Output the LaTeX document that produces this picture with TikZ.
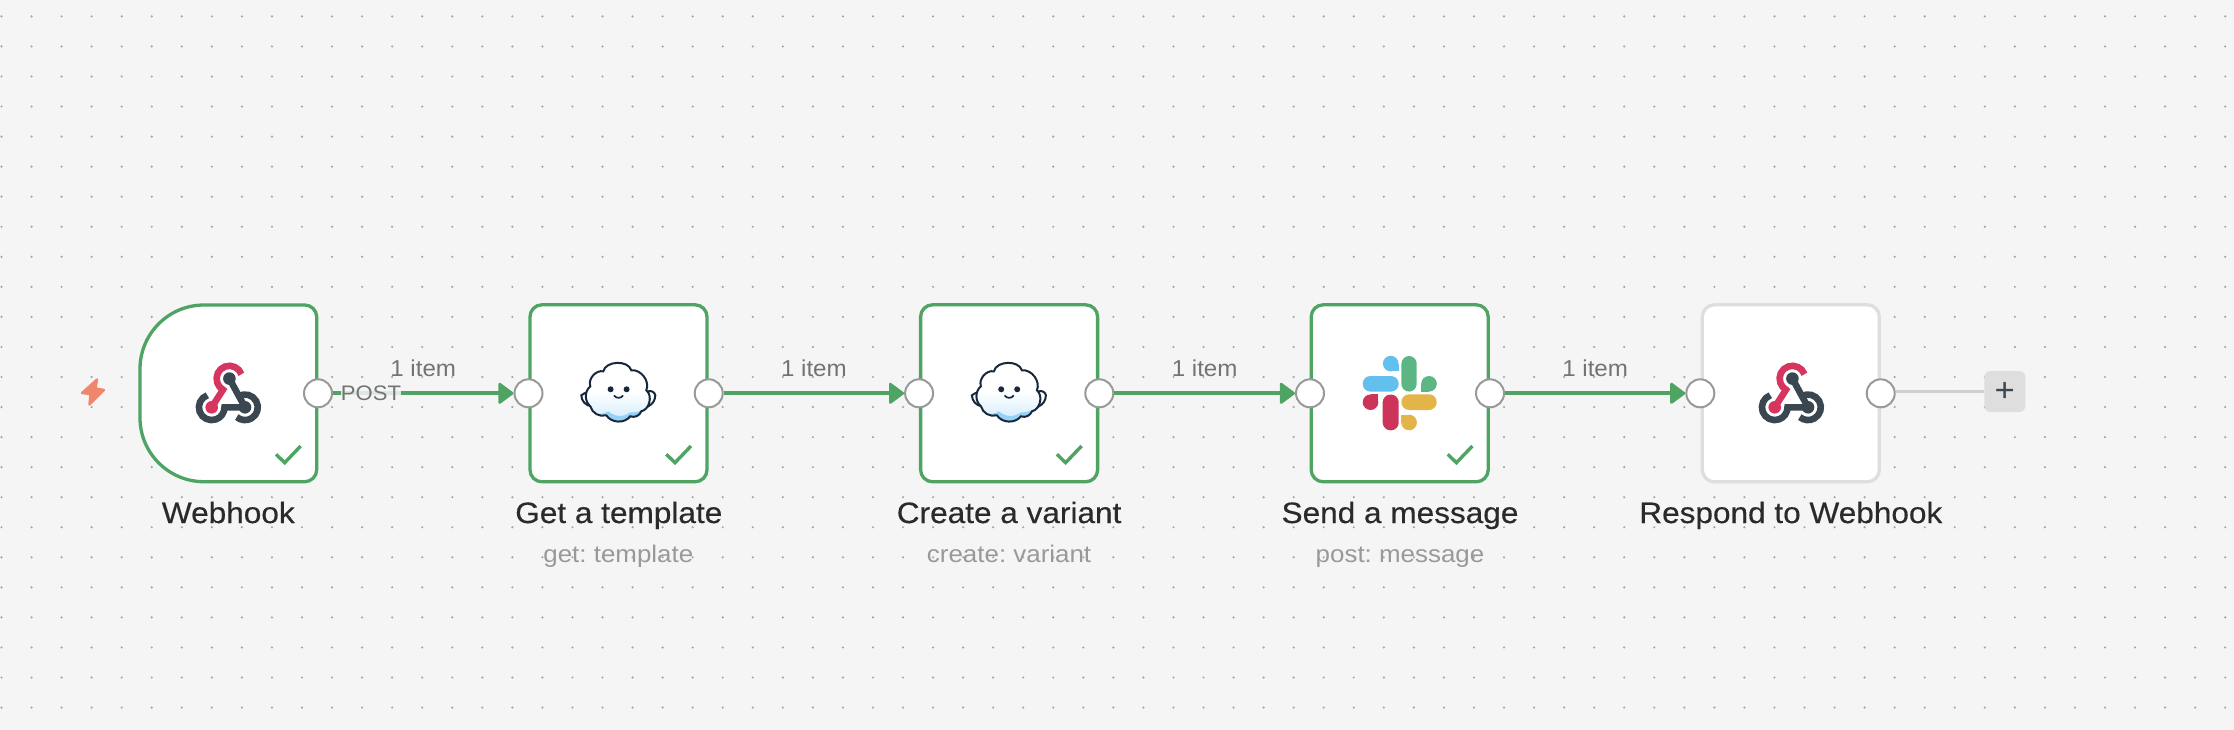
\documentclass[tikz,border=0pt]{standalone}
\usepackage{fontspec}
\setmainfont[FakeStretch=1.05]{Liberation Sans}
\newfontfamily\titlefont[FakeStretch=1.07, FakeBold=0.35]{Liberation Sans}
\newfontfamily\subfont[FakeStretch=1.08]{Liberation Sans}
\usetikzlibrary{arrows.meta, calc}
\definecolor{canvas}{RGB}{245, 245, 245}
\definecolor{speck}{RGB}{165, 165, 165}
\definecolor{okgreen}{RGB}{79, 164, 100}
\definecolor{idle}{RGB}{222, 222, 222}
\definecolor{wire}{RGB}{208, 208, 208}
\definecolor{ring}{RGB}{153, 153, 153}
\definecolor{hookred}{RGB}{214, 53, 95}
\definecolor{hookdark}{RGB}{58, 71, 80}
\definecolor{bolt}{RGB}{240, 134, 110}
\definecolor{ink}{RGB}{42, 42, 42}
\definecolor{cloudline}{RGB}{24, 40, 60}
\definecolor{cloudlow}{RGB}{205, 234, 252}
\definecolor{cloudband}{RGB}{150, 210, 246}
\definecolor{slackblue}{RGB}{99, 191, 238}
\definecolor{slackgreen}{RGB}{92, 182, 132}
\definecolor{slackyellow}{RGB}{227, 180, 71}
\definecolor{slackred}{RGB}{204, 52, 89}
\newcommand{\cloudpath}{(-28,-7) to[bend left=60] (-15,-22) to[bend left=75] (13,-23) to[bend left=60] (28,-3)
  to[bend left=65] (23,18) to[bend left=45] (12,23) to[bend left=55] (-12,22) to[bend left=45] (-28,13) to[bend left=50] cycle}
\tikzset{
  stepbox/.style={draw=okgreen, line width=3.3pt, fill=white, rounded corners=12pt, minimum size=177pt, inner sep=0pt},
  idlebox/.style={stepbox, draw=idle},
  port/.style={circle, draw=ring, line width=2pt, fill=white, minimum size=28pt, inner sep=0pt},
  flow/.style={draw=okgreen, line width=3.8pt, -{Triangle[round, length=16pt, width=23pt, line width=2.5pt]}},
  itemlabel/.style={midway, anchor=base, yshift=16.5pt, text=black!55, font=\fontsize{23}{23}\selectfont},
  title/.style={anchor=base, text=ink, font=\titlefont\fontsize{29.5}{30}\selectfont},
  subtitle/.style={anchor=base, text=ring, font=\subfont\fontsize{24}{24}\selectfont},
  okmark/.pic={\draw[okgreen, line width=3.4pt] (-40.7,61) -- (-32,69.4) -- (-16,52.7);},
  hookicon/.pic={
    \coordinate (T) at (0.7,-14.7);
    \coordinate (R) at (16.3,14);
    \coordinate (L) at (-17,14);
    \draw[hookdark, line width=6.6pt] (T) -- (R);
    \draw[hookdark, line width=6.6pt] (L) ++(110:12.8pt) arc[start angle=110, delta angle=250, radius=12.8pt] -- (R);
    \draw[hookdark, line width=6.6pt] (R) ++(120:12.8pt) arc[start angle=120, delta angle=-250, radius=12.8pt];
    \draw[hookred, line width=6.6pt] (T) ++(20:12.8pt) arc[start angle=20, end angle=240, radius=12.8pt] -- (L);
    \fill[hookdark] (T) circle[radius=6.3pt] (R) circle[radius=6.3pt];
    \fill[hookred] (L) circle[radius=6.3pt];
  },
  cloudicon/.pic={
    \draw[cloudline, fill=white, line width=2pt] (-23,-2) to[bend right=20] (-37,2) to[bend right=40] (-27,13) -- cycle;
    \draw[cloudline, fill=white, line width=2pt] (30,-2) to[bend left=50] (37,2) to[bend left=30] (30,13) -- cycle;
    \shade[top color=white, bottom color=cloudlow, middle color=white] \cloudpath;
    \begin{scope}
      \clip \cloudpath;
      \fill[cloudband] (-32,17) to[bend right=30] (-10,18) to[bend right=40] (12,19) to[bend right=30] (32,9) -- (32,32) -- (-32,32) -- cycle;
    \end{scope}
    \draw[cloudline, line width=2pt] \cloudpath;
    \fill[cloudline] (-7.7,-4) circle[radius=3pt] (8.3,-4) circle[radius=3pt];
    \draw[cloudline, line width=1.7pt, line cap=round] (-4,2.5) to[bend right=55] (4.5,2.5);
  },
  slackicon/.pic={
    \fill[slackblue, rounded corners=7.7pt] (-37,-17.3) rectangle (-1,-1.7);
    \fill[slackblue] (-9,-29.7) circle[radius=7.8pt];
    \fill[slackblue] (-9,-29.7) rectangle (-1,-22);
    \fill[slackgreen, rounded corners=7.7pt] (1.7,-37.3) rectangle (17,-1.7);
    \fill[slackgreen] (29.3,-9.5) circle[radius=7.8pt];
    \fill[slackgreen] (29.3,-9.5) rectangle (21.7,-1.7);
    \fill[slackyellow, rounded corners=7.7pt] (1.7,1) rectangle (37,16.7);
    \fill[slackyellow] (9.4,29.2) circle[radius=7.8pt];
    \fill[slackyellow] (9.4,29.2) rectangle (1.7,21.3);
    \fill[slackred, rounded corners=7.7pt] (-17,1.3) rectangle (-1,37);
    \fill[slackred] (-29.2,8.9) circle[radius=7.8pt];
    \fill[slackred] (-29.2,8.9) rectangle (-21.3,1);
  },
}
\frenchspacing

\begin{document}
\begin{tikzpicture}[x=1pt, y=-1pt]
  \useasboundingbox (0,0) rectangle (2234,730);
  \fill[canvas] (0,0) rectangle (2234,730);

  % dotted canvas
  \foreach \i in {0,...,74}
    \foreach \j in {0,...,23}
      \fill[speck] ({1.5+30.05*\i},{16.4+30.05*\j}) circle[radius=1.2pt];

  % trigger bolt
  \draw[bolt, fill=bolt, line width=2.4pt, line join=round] (97,379.5) -- (82,393) -- (90.5,394) -- (89.5,404.5) -- (104,390) -- (95.5,388.5) -- cycle;

  % steps
  \coordinate (hook) at (228,393.3);
  \draw[okgreen, line width=3.3pt, fill=white] (204,305) -- (304.7,305) arc[start angle=90, end angle=0, radius=12pt]
    -- (316.7,469.7) arc[start angle=0, end angle=-90, radius=12pt] -- (204,481.7)
    arc[start angle=-90, end angle=-180, radius=64pt] -- (140,369) arc[start angle=180, end angle=90, radius=64pt] -- cycle;
  \node[stepbox] (get) at (618.5,393.3) {};
  \node[stepbox] (create) at (1009.1,393.3) {};
  \node[stepbox] (send) at (1399.7,393.3) {};
  \node[idlebox] (respond) at (1790.8,393.3) {};

  % ports
  \node[port] (hook-out) at (318,393.3) {};
  \node[port] (get-in) at (528.5,393.3) {};
  \node[port] (get-out) at (708.7,393.3) {};
  \node[port] (create-in) at (919.1,393.3) {};
  \node[port] (create-out) at (1099.3,393.3) {};
  \node[port] (send-in) at (1310,393.3) {};
  \node[port] (send-out) at (1490,393.3) {};
  \node[port] (respond-in) at (1700.3,393.3) {};
  \node[port] (respond-out) at (1880.7,393.3) {};
  \node[fill=idle, rounded corners=6pt, minimum size=41pt, inner sep=0pt, text=hookdark, font=\fontsize{33}{33}\selectfont] (plus) at (2004.8,391.5) {+};

  % icons
  \pic at (228.7,393.3) {hookicon};
  \pic at (618.3,393.3) {cloudicon};
  \pic at (1008.9,393.3) {cloudicon};
  \pic at (1399.7,393.3) {slackicon};
  \pic at (1791.7,393.3) {hookicon};

  % check marks
  \pic at (316.7,393.3) {okmark};
  \pic at (707,393.3) {okmark};
  \pic at (1097.6,393.3) {okmark};
  \pic at (1488.4,393.3) {okmark};

  % connectors
  \draw[flow] (hook-out) -- node[itemlabel] {1 item} (get-in);
  \draw[flow] (get-out) -- node[itemlabel] {1 item} (create-in);
  \draw[flow] (create-out) -- node[itemlabel] {1 item} (send-in);
  \draw[flow] (send-out) -- node[itemlabel] {1 item} (respond-in);
  \draw[wire, line width=3.4pt] (respond-out.east |- plus) -- (plus);
  \node[fill=canvas, fill opacity=0.85, text opacity=1, text=black!55, inner sep=0pt, font=\fontsize{21}{21}\selectfont] (post) at (371,393.3) {POST};

  % titles
  \node[title] (hook-title) at (228.3,523) {Webhook};
  \node[title] (get-title) at (618.8,523) {Get a template};
  \node[title] (create-title) at (1009.1,523) {Create a variant};
  \node[title] (send-title) at (1400,523) {Send a message};
  \node[title] (respond-title) at (1790.8,523) {Respond to Webhook};
  \node[subtitle] (get-sub) at (618.3,562) {get: template};
  \node[subtitle] (create-sub) at (1009.1,562) {create: variant};
  \node[subtitle] (send-sub) at (1400,562) {post: message};
\end{tikzpicture}
\end{document}
